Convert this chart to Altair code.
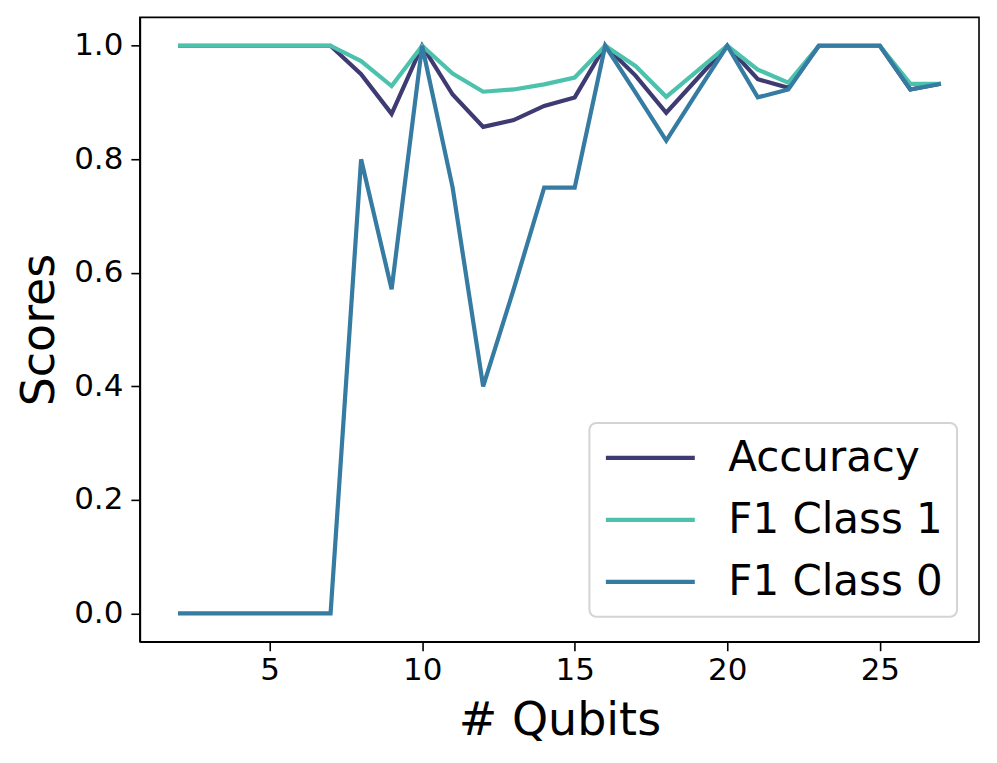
import altair as alt
import pandas as pd

qubits = list(range(2, 28))
accuracy = [1.0, 1.0, 1.0, 1.0, 1.0, 1.0, 0.95, 0.88, 1.0, 0.914, 0.857, 0.869, 0.894,
            0.909, 1.0, 0.947, 0.882, 0.941, 1.0, 0.941, 0.926, 1.0, 1.0, 1.0, 0.923, 0.933]
f1_class1 = [1.0, 1.0, 1.0, 1.0, 1.0, 1.0, 0.973, 0.929, 1.0, 0.951, 0.919, 0.923, 0.932,
             0.944, 1.0, 0.964, 0.91, 0.955, 1.0, 0.958, 0.935, 1.0, 1.0, 1.0, 0.933, 0.933]
f1_class0 = [0.0, 0.0, 0.0, 0.0, 0.0, 0.0, 0.8, 0.571, 1.0, 0.75, 0.4, 0.571, 0.75,
             0.75, 1.0, 0.917, 0.833, 0.917, 1.0, 0.909, 0.923, 1.0, 1.0, 1.0, 0.923, 0.933]
series_names = ["Accuracy", "F1 Class 1", "F1 Class 0"]
series_colors = ["#3e3a72", "#4cc2ad", "#357ba2"]
x_ticks = [5, 10, 15, 20, 25]
y_ticks = [0.0, 0.2, 0.4, 0.6, 0.8, 1.0]

rows = []
for name, vals in zip(series_names, [accuracy, f1_class1, f1_class0]):
    for q, v in zip(qubits, vals):
        rows.append({"Qubits": q, "Score": v, "Series": name})
df = pd.DataFrame(rows)

FONT = "DejaVu Sans"

chart = alt.Chart(df).mark_line(strokeWidth=4.2, strokeCap="butt", strokeJoin="miter").encode(
    x=alt.X("Qubits:Q",
            scale=alt.Scale(domain=[0.75, 28.25], nice=False, zero=False),
            axis=alt.Axis(title="# Qubits", values=x_ticks, grid=False)),
    y=alt.Y("Score:Q",
            scale=alt.Scale(domain=[-0.05, 1.05], nice=False, zero=False),
            axis=alt.Axis(title="Scores", values=y_ticks, format=".1f", grid=False)),
    color=alt.Color("Series:N",
                    scale=alt.Scale(domain=series_names, range=series_colors),
                    sort=series_names,
                    title=None,
                    legend=alt.Legend(
                        orient="none", legendX=450, legendY=406,
                        symbolType="stroke", symbolSize=7921, symbolStrokeWidth=4.2,
                        labelFontSize=42, labelFont=FONT, labelColor="black",
                        labelLimit=500, clipHeight=42,
                        labelOffset=31, rowPadding=20, padding=14,
                        strokeColor="#d4d4d4", fillColor="white", cornerRadius=7,
                    )),
    order=alt.Order("Qubits:Q"),
).properties(
    width=840, height=625,
    autosize=alt.AutoSizeParams(type="none"),
    padding={"left": 132, "top": 9, "right": 10, "bottom": 110},
).configure_view(
    stroke="black", strokeWidth=1.6
).configure_axis(
    labelFont=FONT, titleFont=FONT, labelFontSize=31, titleFontSize=46,
    labelColor="black", titleColor="black", titleFontWeight="normal",
    domainColor="black", domainWidth=1.6, tickColor="black", tickWidth=1.6,
    tickSize=9, labelPadding=5,
).configure_axisX(
    titlePadding=13,
).configure_axisY(
    titlePadding=10, labelPadding=8,
).configure_legend(
    strokeWidth=2,
)

chart.save("out.html", embed_options={"renderer": "svg", "actions": False})
